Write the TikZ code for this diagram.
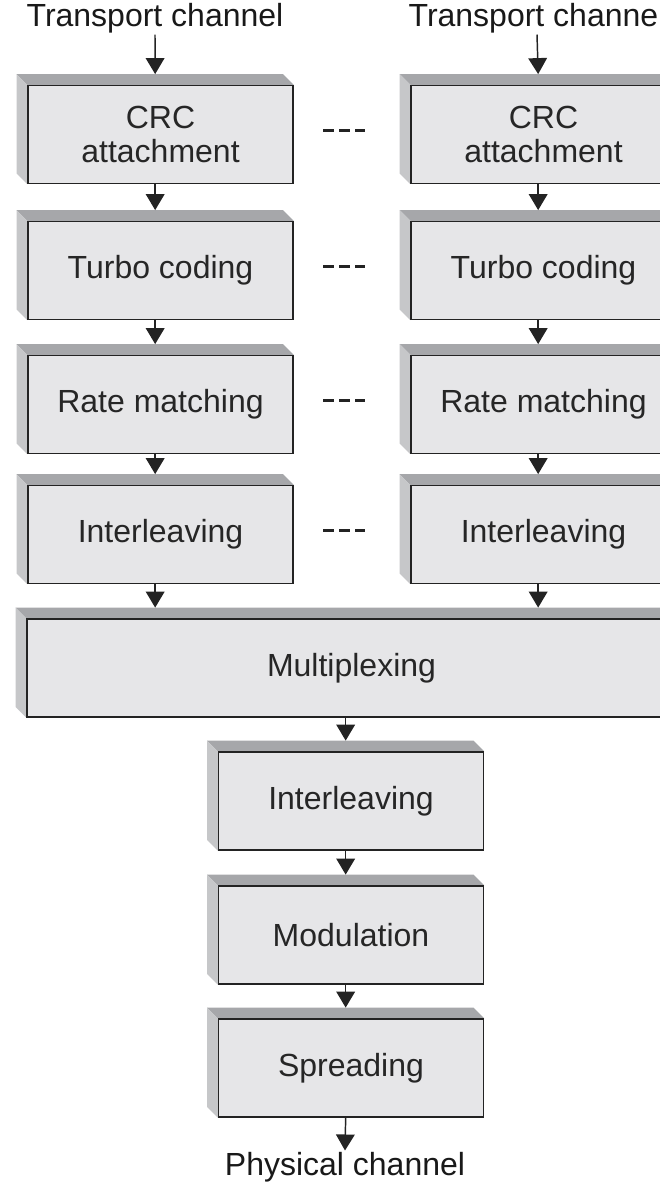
\documentclass[tikz,border=0pt]{standalone}
\usepackage{fontspec}
\setmainfont{Liberation Sans}
\usetikzlibrary{arrows.meta,backgrounds}
\definecolor{boxfill}{RGB}{230,230,232}
\definecolor{topface}{RGB}{166,167,170}
\definecolor{sideface}{RGB}{198,199,201}
\definecolor{inkline}{RGB}{35,35,35}
\def\dep{8pt}
\begin{document}
\begin{tikzpicture}[x=0.75pt,y=0.75pt,
        blk/.style={draw=inkline,rectangle,fill=boxfill,line width=1.1pt,minimum width=198.75pt,minimum height=73.5pt,inner sep=2pt,align=center,font=\fontsize{24}{25.5}\selectfont,text=black!85},
        wide/.style={blk,minimum width=486.75pt},
        lbl/.style={inner sep=1pt,font=\fontsize{24}{26}\selectfont,text=black!90},
        flow/.style={draw=inkline,line width=1.1pt,-{Triangle[width=14pt,length=12pt]}},
        gap/.style={draw=inkline,line width=2.2pt,dash pattern=on 8.25pt off 3.75pt}
      ]
      \useasboundingbox (0,0) rectangle (660,-1185);
      \clip (0,0) rectangle (660,-1185);
      % two transport channels
      \node[lbl] (tcL) at (155,-18) {Transport channel};
      \node[lbl] (tcR) at (537,-18) {Transport channel};
      \node[blk] (crcL) at (160.5,-134.5) {CRC\\attachment};
      \node[blk] (crcR) at (543.5,-134.5) {CRC\\attachment};
      \node[blk] (turL) at (160.5,-270.5) {Turbo coding};
      \node[blk] (turR) at (543.5,-270.5) {Turbo coding};
      \node[blk] (ratL) at (160.5,-404.5) {Rate matching};
      \node[blk] (ratR) at (543.5,-404.5) {Rate matching};
      \node[blk] (intL) at (160.5,-534.5) {Interleaving};
      \node[blk] (intR) at (543.5,-534.5) {Interleaving};
      % common part
      \node[wide] (mux) at (351.5,-668) {Multiplexing};
      \node[blk] (intM) at (351,-801) {Interleaving};
      \node[blk] (mod) at (351,-935) {Modulation};
      \node[blk] (spr) at (351,-1068) {Spreading};
      \node[lbl] (phy) at (345,-1167) {Physical channel};
      % 3d faces
      \begin{scope}[on background layer]
        \foreach \n in {crcL,crcR,turL,turR,ratL,ratR,intL,intR,mux,intM,mod,spr}{
          \fill[topface] (\n.north west) -- (\n.north east) -- ++(-\dep,\dep) -- ([shift={(-\dep,\dep)}]\n.north west) -- cycle;
          \fill[sideface] (\n.north west) -- ([shift={(-\dep,\dep)}]\n.north west) -- ([shift={(-\dep,\dep)}]\n.south west) -- (\n.south west) -- cycle;
        }
      \end{scope}
      % arrows
      \draw[flow] (tcL.south) -- ([xshift=-4pt,yshift=\dep]crcL.north);
      \draw[flow] (tcR.south) -- ([xshift=-4pt,yshift=\dep]crcR.north);
      \foreach \a/\b in {crcL/turL,turL/ratL,ratL/intL,crcR/turR,turR/ratR,ratR/intR,intM/mod,mod/spr}
        \draw[flow] ([xshift=-4pt]\a.south) -- ([xshift=-4pt,yshift=\dep]\b.north);
      \draw[flow] ([xshift=-4pt]intL.south) -- ([xshift=-4pt,yshift=\dep]intL.south |- mux.north);
      \draw[flow] ([xshift=-4pt]intR.south) -- ([xshift=-4pt,yshift=\dep]intR.south |- mux.north);
      \draw[flow] ([xshift=-4pt]intM.north |- mux.south) -- ([xshift=-4pt,yshift=\dep]intM.north);
      \draw[flow] ([xshift=-4pt]spr.south) -- (phy.north);
      % dashes between the channels
      \foreach \a/\b in {crcL/crcR,turL/turR,ratL/ratR,intL/intR}
        \draw[gap] ([xshift=22pt,yshift=3pt]\a.east) -- ([xshift=-34pt,yshift=3pt]\b.west);
    \end{tikzpicture}
\end{document}
